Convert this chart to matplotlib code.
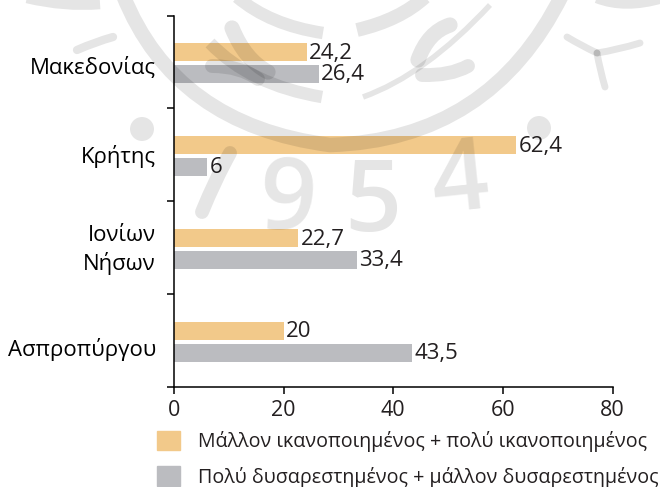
import matplotlib
matplotlib.use('Agg')
import matplotlib.pyplot as plt
from matplotlib.patches import Patch, Circle, PathPatch
from matplotlib.path import Path

plt.rcParams['font.family'] = ['Open Sans', 'DejaVu Sans']

# Data
regions = ['Μακεδονίας', 'Κρήτης', 'Ιονίων\nΝήσων', 'Ασπροπύργου']
satisfied = [24.2, 62.4, 22.7, 20]
dissatisfied = [26.4, 6, 33.4, 43.5]
legend_labels = ['Μάλλον ικανοποιημένος + πολύ ικανοποιημένος',
                 'Πολύ δυσαρεστημένος + μάλλον δυσαρεστημένος']
x_ticks = [0, 20, 40, 60, 80]

ORANGE = '#f2c98a'
GREY = '#bbbcc0'
INK = '#231f20'
W, H = 660, 487

fig = plt.figure(figsize=(W / 100, H / 100), dpi=100)
ax = fig.add_axes([174 / W, 1 - 386.7 / H, 438.5 / W, 371.2 / H])

# Bars, one pair per region
bar_h = 0.194
for i in range(len(regions)):
    y = i + 0.515
    ax.barh(y - 0.118, satisfied[i], height=bar_h, color=ORANGE, zorder=2)
    ax.barh(y + 0.118, dissatisfied[i], height=bar_h, color=GREY, zorder=2)
    ax.text(satisfied[i] + 0.45, y - 0.105, f'{satisfied[i]:g}'.replace('.', ','),
            va='center', ha='left', fontsize=16, color=INK)
    ax.text(dissatisfied[i] + 0.45, y + 0.122, f'{dissatisfied[i]:g}'.replace('.', ','),
            va='center', ha='left', fontsize=16, color=INK)

# Axes
ax.set_xlim(0, 80)
ax.set_ylim(len(regions), 0)
ax.set_xticks(x_ticks)
ax.set_yticks(range(len(regions) + 1))
ax.set_yticklabels([])
ax.set_yticks([0.54, 1.49, 2.47, 3.57], minor=True)
ax.set_yticklabels(regions, minor=True, ha='right', fontsize=15.9, color='black',
                   linespacing=1.3)
ax.tick_params(axis='y', which='minor', length=0, pad=13)
ax.tick_params(axis='both', which='major', length=5, width=1.1, color='black')
ax.tick_params(axis='x', labelsize=15.5, labelcolor=INK, pad=4.5)
ax.spines['top'].set_visible(False)
ax.spines['right'].set_visible(False)
ax.spines['left'].set_linewidth(1.1)
ax.spines['bottom'].set_linewidth(1.1)
ax.patch.set_alpha(0)

# Legend
handles = [Patch(color=ORANGE), Patch(color=GREY)]
fig.legend(handles, legend_labels, loc='upper left',
           bbox_to_anchor=(149.5 / W, 1 - 423 / H), frameon=False, fontsize=14.1,
           labelcolor=INK, handlelength=1.15, handleheight=1.15,
           handletextpad=0.93, labelspacing=0.73, borderpad=0.4, borderaxespad=0)

# Watermark logo over everything, in pixel coordinates
wm = fig.add_axes([0, 0, 1, 1], zorder=5)
wm.set_xlim(0, W)
wm.set_ylim(H, 0)
wm.axis('off')
wm.patch.set_alpha(0)


def curve(points, width, cap='round'):
    # points: start, then control/end pairs of quadratic segments
    codes = [Path.MOVETO] + [Path.CURVE3] * (len(points) - 1)
    wm.add_patch(PathPatch(Path(points, codes), fill=False, edgecolor='black',
                           alpha=0.1, lw=width, capstyle=cap))


# rings
curve([(123, -5), (175, 125), (330, 145), (490, 140), (562, -5)], 10.5, 'butt')
curve([(210, 43), (250, 85), (322, 97)], 9, 'butt')
curve([(237, -3), (270, 25), (323, 33)], 9, 'butt')
curve([(357, 30), (400, 20), (425, -3)], 10, 'butt')
curve([(27, -3), (65, 6), (100, 3)], 9, 'butt')
curve([(597, -3), (625, 8), (662, -3)], 9, 'butt')
# branches and leaves
curve([(77, 50), (95, 42), (113, 37)], 6)
curve([(567, 37), (582, 46), (597, 53)], 5)
curve([(597, 53), (617, 50), (640, 43)], 5)
curve([(597, 53), (600, 70), (605, 87)], 5)
curve([(363, 97), (425, 75), (490, 5)], 4, 'butt')
curve([(418, 60), (428, 32), (450, 25)], 11)
curve([(422, 75), (450, 76), (468, 66)], 10)
curve([(232, 28), (245, 60), (268, 72)], 11)
curve([(212, 66), (240, 66), (258, 79)], 10)
# dots
wm.add_patch(Circle((142, 129), 12, color='black', alpha=0.1, lw=0))
wm.add_patch(Circle((539, 128), 12, color='black', alpha=0.1, lw=0))
# 1954
curve([(230, 153), (215, 180), (202, 212)], 10)
for ch, px, py, rot in [('9', 288, 204, -3), ('5', 373, 205, 0), ('4', 460, 184, 6)]:
    wm.text(px, py, ch, fontsize=72, color='black', alpha=0.1, ha='center',
            va='center', rotation=rot, fontweight=600)

fig.savefig('out.png', dpi=100)
